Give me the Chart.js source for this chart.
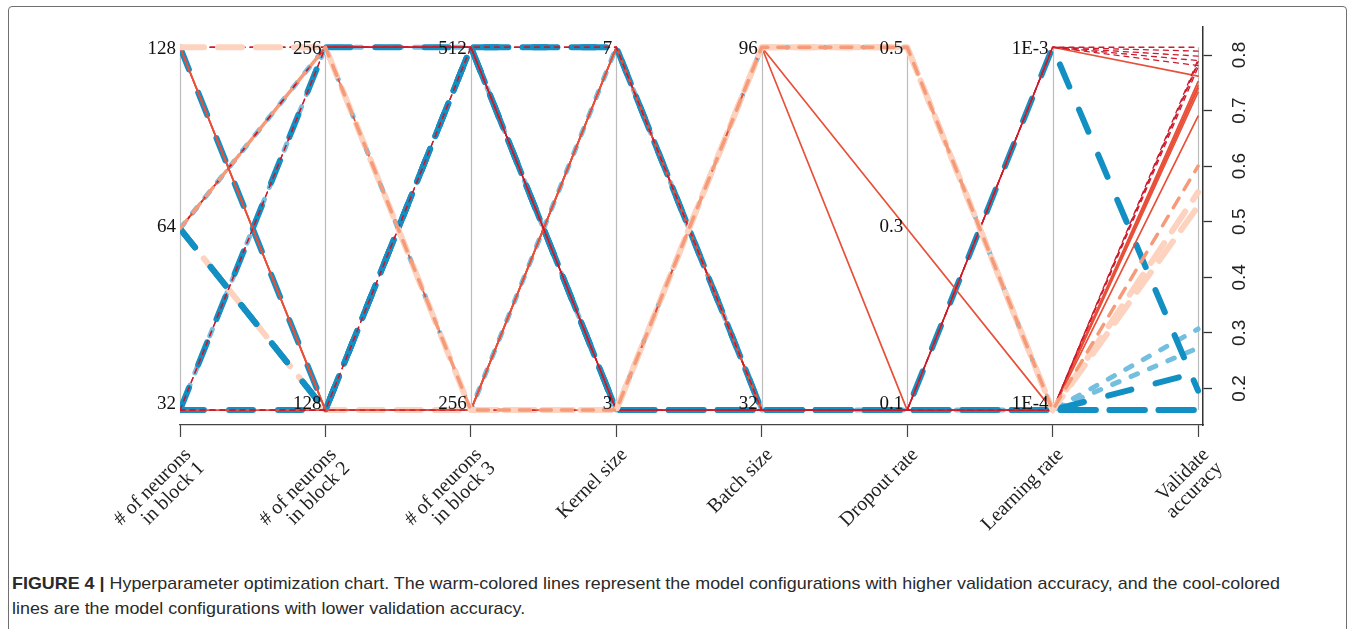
<!DOCTYPE html>
<html>
<head>
<meta charset="utf-8">
<script src="https://cdn.jsdelivr.net/npm/chart.js@4.4.1/dist/chart.umd.min.js"></script>
<style>
  html, body { margin: 0; padding: 0; background: #fff; }
  body { width: 1354px; height: 629px; position: relative; overflow: hidden; }
  .frame { position: absolute; left: 8px; top: 6px; width: 1337px; height: 660px; border: 1px solid #707070; border-radius: 4px; }
  #wrap { position: absolute; left: 0; top: 0; width: 1354px; height: 560px; }
  .caption { position: absolute; left: 12px; top: 571px; font-family: "Liberation Sans", Arial, sans-serif; font-size: 17px; line-height: 25px; color: #2a2a2a; white-space: nowrap; transform-origin: 0 0; }
  .caption b { font-weight: bold; }
</style>
</head>
<body>
<div class="frame"></div>
<div id="wrap"><canvas id="chart" width="1354" height="560"></canvas></div>
<div class="caption" id="caption"><b>FIGURE 4 |</b> Hyperparameter optimization chart. The warm-colored lines represent the model configurations with higher validation accuracy, and the cool-colored<br>lines are the model configurations with lower validation accuracy.</div>
<script>
const axisNames = [['# of neurons', 'in block 1'], ['# of neurons', 'in block 2'], ['# of neurons', 'in block 3'],
  'Kernel size', 'Batch size', 'Dropout rate', 'Learning rate', ['Validate', 'accuracy']];
const axisLevels = [[32, 64, 128], [128, 256], [256, 512], [3, 7], [32, 96], [0.1, 0.3, 0.5], [1e-4, 1e-3]];
const axisLevelLabels = [['32', '64', '128'], ['128', '256'], ['256', '512'], ['3', '7'], ['32', '96'], ['0.1', '0.3', '0.5'], ['1E-4', '1E-3']];
const accTicks = [0.2, 0.3, 0.4, 0.5, 0.6, 0.7, 0.8];

// one entry per model configuration, listed in drawing order (first = bottom)
const block1   = [64, 32, 64, 128, 64, 32, 32, 64, 128, 128, 64, 64, 128, 32, 128, 32, 32, 64, 32, 128, 32, 32, 64, 128, 64];
const block2   = [256, 256, 128, 128, 128, 256, 128, 128, 128, 128, 256, 256, 128, 128, 256, 256, 128, 256, 128, 256, 256, 128, 256, 256, 256];
const block3   = [256, 512, 256, 512, 512, 512, 512, 512, 256, 256, 256, 512, 256, 256, 512, 512, 512, 512, 256, 512, 512, 512, 512, 256, 256];
const kernel   = [7, 3, 3, 3, 7, 3, 7, 3, 7, 7, 3, 3, 7, 7, 3, 3, 7, 3, 3, 3, 3, 7, 3, 3, 3];
const batch    = [32, 96, 96, 32, 32, 32, 32, 32, 32, 32, 96, 96, 32, 32, 32, 32, 32, 32, 32, 32, 32, 32, 32, 96, 96];
const dropout  = [0.1, 0.5, 0.5, 0.1, 0.1, 0.1, 0.1, 0.1, 0.1, 0.1, 0.3, 0.1, 0.1, 0.1, 0.1, 0.1, 0.1, 0.1, 0.1, 0.1, 0.1, 0.1, 0.1, 0.5, 0.5];
const lrate    = [1e-4, 1e-4, 1e-4, 1e-4, 1e-3, 1e-4, 1e-4, 1e-4, 1e-3, 1e-4, 1e-4, 1e-4, 1e-4, 1e-4, 1e-3, 1e-3, 1e-3, 1e-3, 1e-3, 1e-4, 1e-4, 1e-4, 1e-4, 1e-4, 1e-4];
const accuracy = [0.307, 0.273, 0.528, 0.161, 0.196, 0.229, 0.161, 0.161, 0.762, 0.752, 0.745, 0.740, 0.690, 0.733,
  0.814, 0.807, 0.798, 0.790, 0.781, 0.792, 0.785, 0.778, 0.788, 0.553, 0.600];

const accMin = Math.min(...accuracy);
const accMax = Math.max(...accuracy);
const yLo = -0.041, yHi = 1.0574;

function norm(axis, v) {
  const lv = axisLevels[axis];
  return lv.indexOf(v) / (lv.length - 1);
}

function lineStyle(acc) {
  if (acc >= 0.775) return {color: '#cc1b2d', width: 1.3, dash: [5, 5]};
  if (acc >= 0.65) return {color: '#e9503a', width: 1.7, dash: []};
  if (acc >= 0.58) return {color: '#f59b7a', width: 3.5, dash: [11, 10]};
  if (acc >= 0.4) return {color: '#fdd3bf', width: 6, dash: [24, 14]};
  if (acc >= 0.25) return {color: '#74bfdf', width: 5, dash: [7, 13]};
  return {color: '#1390c3', width: 6, dash: [24, 25]};
}

const datasets = accuracy.map((acc, i) => {
  const vals = [block1[i], block2[i], block3[i], kernel[i], batch[i], dropout[i], lrate[i]];
  const pts = vals.map((v, a) => ({x: a, y: norm(a, v)}));
  pts.push({x: 7, y: (acc - accMin) / (accMax - accMin)});
  const st = lineStyle(acc);
  return {
    data: pts,
    borderColor: st.color,
    borderWidth: st.width,
    borderDash: st.dash,
    borderCapStyle: 'round',
    borderJoinStyle: 'round',
    pointRadius: 0,
    tension: 0,
    fill: false
  };
}).reverse(); // chart.js draws index 0 last

const serif = 'Liberation Serif, "Times New Roman", serif';
const sans = 'Liberation Sans, Arial, sans-serif';

const axesPlugin = {
  id: 'paraAxes',
  beforeDatasetsDraw(chart) {
    const {ctx, scales: {x, y}} = chart;
    ctx.save();
    ctx.strokeStyle = '#bdbdbd';
    ctx.lineWidth = 1.2;
    for (let i = 0; i < axisNames.length; i++) {
      const px = Math.round(x.getPixelForValue(i)) + 0.5;
      ctx.beginPath();
      ctx.moveTo(px, y.getPixelForValue(1));
      ctx.lineTo(px, y.getPixelForValue(0));
      ctx.stroke();
    }
    ctx.restore();
  },
  afterDatasetsDraw(chart) {
    const {ctx, scales: {x, y}} = chart;
    ctx.save();
    ctx.font = '19px ' + serif;
    ctx.fillStyle = '#111';
    ctx.textAlign = 'right';
    ctx.textBaseline = 'middle';
    axisLevelLabels.forEach((labels, a) => {
      const px = x.getPixelForValue(a) - 4;
      labels.forEach((txt, j) => {
        const t = j / (labels.length - 1);
        let py = y.getPixelForValue(t);
        if (j === 0) py -= 6;
        else if (j === labels.length - 1) py += 2;
        else py -= 2;
        ctx.fillText(txt, px, py);
      });
    });
    ctx.restore();
  }
};

new Chart(document.getElementById('chart'), {
  type: 'line',
  data: {datasets},
  options: {
    responsive: false,
    animation: false,
    events: [],
    layout: {padding: {left: 180, right: 91, top: 23, bottom: 5}},
    plugins: {legend: {display: false}, tooltip: {enabled: false}},
    scales: {
      x: {
        type: 'linear',
        position: 'bottom',
        min: 0,
        max: 7.034,
        afterBuildTicks: s => { s.ticks = axisNames.map((_, i) => ({value: i})); },
        afterFit: s => { s.height = 130; },
        ticks: {
          autoSkip: false,
          minRotation: 45,
          maxRotation: 45,
          padding: 8,
          labelOffset: 8,
          color: '#222',
          font: {family: serif, size: 20, lineHeight: 0.95},
          callback: (v, i) => axisNames[i]
        },
        grid: {drawOnChartArea: false, tickLength: 12, tickColor: '#444', tickWidth: 1.2},
        border: {color: '#444', width: 1.2}
      },
      y: {
        type: 'linear',
        display: false,
        min: yLo,
        max: yHi
      },
      acc: {
        type: 'linear',
        position: 'right',
        min: accMin + (accMax - accMin) * yLo,
        max: accMin + (accMax - accMin) * yHi,
        afterBuildTicks: s => { s.ticks = accTicks.map(v => ({value: v})); },
        afterFit: s => { s.width = 60; },
        ticks: {
          minRotation: 90,
          maxRotation: 90,
          crossAlign: 'center',
          padding: 15,
          color: '#222',
          font: {family: sans, size: 19},
          callback: v => v.toFixed(1)
        },
        grid: {drawOnChartArea: false, tickLength: 9, tickColor: '#333', tickWidth: 1.3},
        border: {color: '#333', width: 1.5}
      }
    }
  },
  plugins: [axesPlugin]
});

// squeeze the caption to the condensed width of the original
const cap = document.getElementById('caption');
cap.style.transform = 'scaleX(' + (1268 / cap.getBoundingClientRect().width) + ')';
</script>
</body>
</html>
